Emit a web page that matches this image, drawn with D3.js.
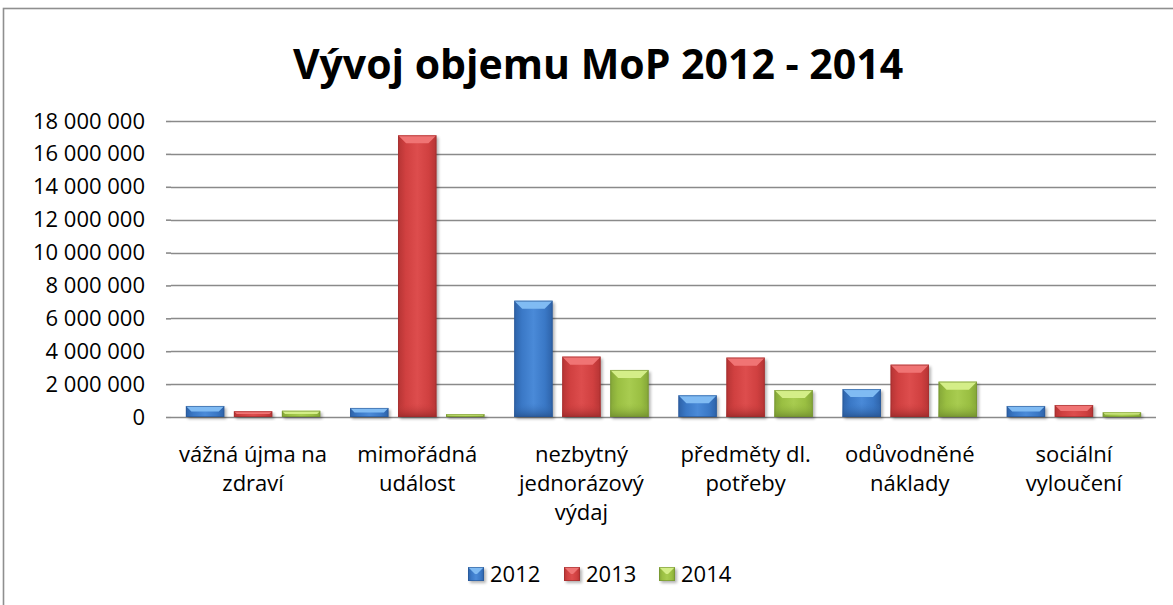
<!DOCTYPE html>
<html>
<head>
<meta charset="utf-8">
<script src="https://cdn.jsdelivr.net/npm/d3@7"></script>
<style>
  body { margin: 0; background: #fff; }
  text { font-family: "Open Sans", "Noto Sans", sans-serif; fill: #000; }
</style>
</head>
<body>
<svg id="paper"></svg>
<script>
// data
let categories = ["vážná újma na zdraví", "mimořádná událost", "nezbytný jednorázový výdaj",
    "předměty dl. potřeby", "odůvodněné náklady", "sociální vyloučení"];
let years = ["2012", "2013", "2014"];
let values2012 = [670000, 550000, 7070000, 1320000, 1700000, 670000];
let values2013 = [350000, 17130000, 3670000, 3610000, 3180000, 730000];
let values2014 = [380000, 180000, 2860000, 1640000, 2150000, 290000];
let yTicks = [0, 2000000, 4000000, 6000000, 8000000, 10000000, 12000000, 14000000, 16000000, 18000000];
let title = "Vývoj objemu MoP 2012 - 2014";

let seriesValues = [values2012, values2013, values2014];

// bevel colours per series
let shades = [
    {face: "#3a78c6", top: "#80bbf3", side: "#2d62a8", bottom: "#285592", mid: "#4a8ad8"},
    {face: "#d04040", top: "#f07474", side: "#b53434", bottom: "#9c2b2b", mid: "#dd4d4d"},
    {face: "#9abf42", top: "#d4ee88", side: "#84a638", bottom: "#718f2f", mid: "#a8cc50"}
];

let W = 1173, H = 605;
let margin = {top: 121, right: 17, bottom: 188, left: 171},
    width = W - margin.left - margin.right,
    height = H - margin.top - margin.bottom;

let svg = d3.select("#paper")
    .attr("width", W)
    .attr("height", H);

let defs = svg.append("defs");
defs.append("filter")
    .attr("id", "shadow")
    .attr("x", "-20%").attr("y", "-20%")
    .attr("width", "140%").attr("height", "140%")
    .append("feGaussianBlur")
    .attr("stdDeviation", 1.5);

shades.forEach((s, i) => {
    let lg = defs.append("linearGradient")
        .attr("id", "face-" + i)
        .attr("x1", "0").attr("x2", "1").attr("y1", "0").attr("y2", "0");
    lg.append("stop").attr("offset", "0").attr("stop-color", s.side);
    lg.append("stop").attr("offset", "0.2").attr("stop-color", s.face);
    lg.append("stop").attr("offset", "0.5").attr("stop-color", s.mid);
    lg.append("stop").attr("offset", "0.8").attr("stop-color", s.face);
    lg.append("stop").attr("offset", "1").attr("stop-color", s.side);
    let bg = defs.append("linearGradient")
        .attr("id", "bottom-" + i)
        .attr("x1", "0").attr("x2", "0").attr("y1", "0").attr("y2", "1");
    bg.append("stop").attr("offset", "0").attr("stop-color", s.face).attr("stop-opacity", 0);
    bg.append("stop").attr("offset", "1").attr("stop-color", s.bottom).attr("stop-opacity", 0.9);
});

// chart frame
svg.append("rect")
    .attr("x", 3.5).attr("y", 8.5)
    .attr("width", 1190).attr("height", 620)
    .attr("fill", "#fff")
    .attr("stroke", "#8f8f8f")
    .attr("stroke-width", 1.6);

svg.append("text")
    .attr("x", 598)
    .attr("y", 79)
    .attr("text-anchor", "middle")
    .style("font-size", "41px")
    .style("font-weight", "bold")
    .text(title);

let g = svg.append("g")
    .attr("transform", "translate(" + margin.left + "," + margin.top + ")");

let x0 = d3.scaleBand().domain(categories).range([0, width]).padding(0);
let x1 = d3.scaleBand().domain(years).range([0, x0.bandwidth()])
    .paddingInner(0.2).paddingOuter(0.31);
let y = d3.scaleLinear().domain([0, 18000000]).range([height, 0]);

let fmt = d3.formatLocale({decimal: ",", thousands: "\u00a0", grouping: [3], currency: ["", " Kč"]}).format(",d");

// gridlines
g.append("g")
    .selectAll("line")
    .data(yTicks)
    .enter()
    .append("line")
    .attr("x1", 0)
    .attr("x2", width)
    .attr("y1", d => Math.round(y(d)) + 0.5)
    .attr("y2", d => Math.round(y(d)) + 0.5)
    .attr("stroke", "#8a8a8a")
    .attr("stroke-width", 1.6);

let yAxis = g.append("g")
    .call(d3.axisLeft(y).tickValues(yTicks).tickFormat(fmt).tickSize(5).tickPadding(21));
yAxis.select(".domain").remove();
yAxis.selectAll(".tick line").attr("stroke", "#8a8a8a").attr("stroke-width", 1.6);
yAxis.selectAll(".tick text")
    .style("font-size", "22px")
    .style("font-family", "'Open Sans', sans-serif")
    .attr("fill", "#000");

// bars
let bevel = (w, h) => Math.min(8, h / 2, w / 2);

let groups = g.selectAll(".cat")
    .data(categories)
    .enter()
    .append("g")
    .attr("class", "cat")
    .attr("transform", d => "translate(" + x0(d) + ",0)");

let bars = groups.selectAll(".bar")
    .data((d, ci) => years.map((yr, si) => ({year: yr, si: si, value: seriesValues[si][ci]})))
    .enter()
    .append("g")
    .attr("class", "bar");

function drawBevel(sel, bx, by, bw, bh, si) {
    let s = shades[si];
    let b = bevel(bw, bh);
    sel.append("rect")
        .attr("x", bx + 2).attr("y", by + 2)
        .attr("width", bw).attr("height", bh)
        .attr("fill", "#000").attr("opacity", 0.3)
        .attr("filter", "url(#shadow)");
    sel.append("rect")
        .attr("x", bx).attr("y", by)
        .attr("width", bw).attr("height", bh)
        .attr("fill", "url(#face-" + si + ")");
    // darker foot of the bar
    if (bh > 24) {
        sel.append("rect")
            .attr("x", bx).attr("y", by + bh - 14)
            .attr("width", bw).attr("height", 14)
            .attr("fill", "url(#bottom-" + si + ")");
    }
    // top bevel
    sel.append("polygon")
        .attr("points", [[bx, by], [bx + bw, by], [bx + bw - b, by + b], [bx + b, by + b]].join(" "))
        .attr("fill", s.top);
    sel.append("rect")
        .attr("x", bx + 0.5).attr("y", by + 0.5)
        .attr("width", bw - 1).attr("height", Math.max(0, bh - 1))
        .attr("fill", "none")
        .attr("stroke", s.bottom)
        .attr("stroke-opacity", 0.6);
}

bars.each(function (d) {
    let bx = x1(d.year), by = y(d.value);
    drawBevel(d3.select(this), bx, by, x1.bandwidth(), y(0) - by, d.si);
});

// category labels, wrapped
let catLabels = g.append("g")
    .selectAll("text")
    .data(categories)
    .enter()
    .append("text")
    .attr("x", d => x0(d) + x0.bandwidth() / 2)
    .attr("y", height + 45)
    .attr("text-anchor", "middle")
    .style("font-size", "22px");

catLabels.each(function (d) {
    let t = d3.select(this);
    let words = d.split(" ");
    let lines = [], line = [];
    let probe = t.append("tspan");
    words.forEach(w => {
        line.push(w);
        probe.text(line.join(" "));
        if (probe.node().getComputedTextLength() > x0.bandwidth() - 2 && line.length > 1) {
            line.pop();
            lines.push(line.join(" "));
            line = [w];
        }
    });
    lines.push(line.join(" "));
    probe.remove();
    lines.forEach((l, i) => {
        t.append("tspan")
            .attr("x", x0(d) + x0.bandwidth() / 2)
            .attr("dy", i === 0 ? 0 : 29)
            .text(l);
    });
});

// legend
let legendX = [468, 564, 659];
let legend = svg.append("g");
years.forEach((yr, i) => {
    let lg = legend.append("g");
    drawBevel(lg, legendX[i], 567, 16, 14, i);
    lg.append("text")
        .attr("x", legendX[i] + 22)
        .attr("y", 582)
        .style("font-size", "22px")
        .text(yr);
});
</script>
</body>
</html>
